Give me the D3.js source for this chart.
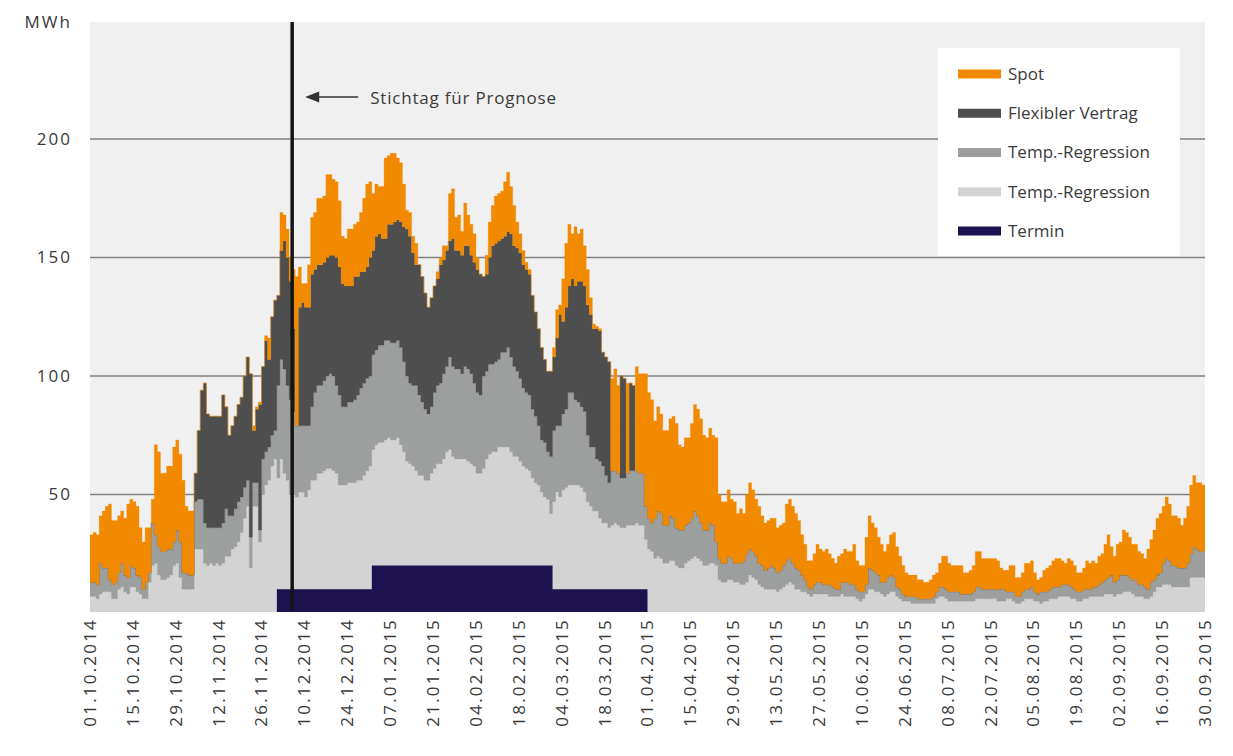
<!DOCTYPE html>
<html>
<head>
<meta charset="utf-8">
<script src="https://cdn.jsdelivr.net/npm/d3@7"></script>
<style>
body { margin: 0; background: #fff; }
svg text { font-family: "Open Sans", "Noto Sans", sans-serif; fill: #3a3a3a; }
</style>
</head>
<body>
<svg id="chart" width="1233" height="756"></svg>
<script>
// daily values 01.10.2014 - 30.09.2015 (MWh)
var lightTop = [
  7,7,6,8,9,9,9,6,6,10, 11,9,8,11,11,9,8,6,6,13, 20,21,16,14,14,15,16,20,21,15,
  10,10,10,10,27,27,27,21,20,21, 20,21,20,21,24,24,27,28,30,34, 40,45,19,45,45,30,50,54,56,62,
  65,57,65,59,56,50,50,49,51,51, 49,52,56,56,59,59,60,61,61,60, 59,54,54,54,55,55,55,56,56,58,
  60,62,69,71,72,72,73,74,73,73, 74,71,68,64,63,62,60,58,58,56, 56,59,61,63,63,65,68,69,66,65,
  65,65,65,64,63,62,59,59,61,65, 67,68,68,70,70,70,70,68,66,66, 64,62,61,60,57,55,54,51,49,48,
  42,47,51,49,52,53,54,54,54,54, 53,51,47,45,43,43,40,38,38,36, 37,38,37,36,36,37,37,37,38,37,
  37,31,27,26,23,24,23,21,21,22, 22,20,19,19,21,22,23,24,23,22, 20,20,21,21,20,14,13,13,14,14,
  13,13,12,12,13,16,15,14,12,11, 10,10,10,10,9,10,11,12,13,12, 10,10,9,9,8,7,8,8,8,8,
  8,7,7,7,7,8,7,7,7,7, 6,5,6,8,10,10,9,9,8,7, 8,9,9,7,6,5,5,5,4,4,
  4,4,4,4,4,4,6,7,7,6, 5,5,5,5,5,5,5,5,5,6, 6,6,6,6,6,6,5,5,5,6,
  6,5,4,4,5,6,6,6,5,5, 4,5,5,6,6,6,7,7,7,7, 6,6,5,5,6,6,7,7,7,7,
  7,8,8,8,7,8,8,9,9,9, 8,7,7,7,6,6,7,9,11,11, 12,12,12,11,11,11,11,11,11,15,
  15,15,15,15,15
];
var midTop = [
  13,13,12,21,19,19,14,12,13,17, 21,16,15,20,19,16,15,10,13,17, 38,33,28,26,26,27,27,30,35,30,
  17,17,16,16,47,48,48,38,36,36, 36,36,36,38,44,41,41,44,47,49, 53,56,32,55,55,35,65,68,70,75,
  77,96,107,103,96,90,85,79,79,79, 79,79,87,93,96,96,98,100,101,100, 96,92,87,87,89,89,90,92,95,97,
  99,100,109,111,113,113,115,115,114,114, 115,112,106,100,97,96,96,92,89,86, 84,87,93,96,97,101,104,108,104,103,
  103,101,104,103,101,97,93,92,100,102, 105,105,106,107,110,110,112,108,104,102, 99,95,93,92,86,83,79,73,72,68,
  66,77,79,79,84,86,93,93,90,89, 87,85,75,70,70,65,64,62,58,55, 60,60,59,57,57,59,60,60,60,59,
  59,45,40,38,40,43,42,37,37,41, 40,36,35,35,37,38,40,43,41,38, 35,35,38,37,30,23,21,21,24,23,
  21,21,21,22,25,27,26,24,21,20, 18,19,20,19,17,18,20,22,23,21, 19,18,16,14,11,10,12,13,13,12,
  12,12,11,10,10,13,13,13,12,12, 10,9,9,12,19,18,17,16,13,13, 15,16,15,11,10,8,7,7,7,7,
  6,6,6,6,6,7,9,11,11,10, 9,9,9,9,8,8,8,8,9,11, 11,10,10,10,10,10,10,10,10,9,
  9,9,7,7,9,10,10,11,9,8, 9,9,9,10,11,11,11,12,12,12, 11,10,9,9,10,10,10,11,11,12,
  13,14,15,16,13,14,16,16,16,15, 14,14,12,12,11,10,13,14,16,17, 21,23,22,20,20,19,19,19,21,25,
  28,27,26,26,26
];
// flexible contract only runs in winter: days 34 .. 183
var flexStart = 34;
var flexTop = [
  59,77,94,97,84,83,
  83,83,83,92,87,75,79,83,88,91, 100,108,101,77,86,88,104,115,107,125,
  132,134,153,157,150,140,120,79,129,131, 129,129,143,145,147,147,148,150,151,151,
  150,146,139,138,138,138,142,142,144,144, 146,150,153,159,160,158,158,164,164,165,
  166,165,163,162,159,152,147,147,142,135, 129,133,138,141,147,149,153,157,158,153,
  153,151,155,155,151,148,145,143,142,143, 150,155,156,157,158,159,161,160,155,154,
  152,147,145,143,134,127,120,112,107,102, 102,108,116,126,123,129,138,141,138,140,
  140,138,130,126,120,120,119,110,108,106, 60,60,59,100,99,59,97,96,60,59,
  59,45,40,38
];
var spotTop = [
  33,34,33,41,43,45,46,39,39,41, 43,40,46,48,47,45,36,30,36,36, 48,71,68,59,59,62,62,70,73,67,
  56,45,43,43,59,77,94,97,84,83, 83,83,83,92,87,75,79,83,88,91, 100,108,101,79,87,89,104,117,116,125,
  132,134,169,168,162,150,145,142,146,139, 139,147,167,169,175,175,176,185,185,183, 182,174,159,158,162,162,164,165,169,175,
  181,182,177,181,180,180,192,193,194,194, 192,190,181,170,169,159,156,147,142,135, 129,133,138,144,150,155,155,177,179,167,
  168,161,173,168,164,160,150,143,142,151, 165,172,176,177,178,182,186,180,172,165, 160,153,148,145,134,127,120,112,107,102,
  102,112,128,130,141,156,164,160,163,160, 162,155,145,133,122,121,120,110,108,106, 99,103,96,100,99,97,97,96,104,101,
  101,101,93,90,81,87,84,77,77,82, 83,80,71,70,74,74,80,88,86,82, 75,74,78,75,74,50,47,47,52,48,
  47,42,44,42,50,55,52,48,45,41, 38,39,40,40,36,37,38,46,48,45, 42,39,33,29,22,22,25,29,27,26,
  27,25,23,21,24,25,27,26,26,29, 22,20,20,32,41,38,36,32,29,26, 29,33,34,28,24,20,17,16,16,16,
  14,14,13,13,14,16,17,21,24,24, 21,20,20,20,20,17,17,18,20,26, 26,23,23,23,23,23,22,19,18,18,
  20,20,15,15,17,21,21,22,17,14, 15,18,19,20,22,23,23,22,21,23, 22,20,17,17,19,22,21,22,21,24,
  25,29,33,28,24,29,30,35,34,32, 29,29,26,25,23,27,31,35,40,42, 45,49,46,41,41,40,37,40,45,54,
  58,55,55,54,54
];
// forward contract (Termin), monthly blocks
var terminFrom = ["2014-12-01", "2015-01-01", "2015-02-01", "2015-03-01", "2015-04-01"];
var terminValues = [10, 20, 20, 10, 0];

var stichtag = "2014-12-06";
var yTicks = [50, 100, 150, 200];
var legendNames = ["Spot", "Flexibler Vertrag", "Temp.-Regression", "Temp.-Regression", "Termin"];

var colors = {
  spot: "#f18a00", flex: "#4e4e4e", mid: "#9d9f9f", light: "#d3d3d3", termin: "#1e1150"
};
var legendColors = [colors.spot, colors.flex, colors.mid, colors.light, colors.termin];

var parse = d3.utcParse("%Y-%m-%d");
var fmt = d3.utcFormat("%d.%m.%Y");
var start = parse("2014-10-01");
var n = spotTop.length;
var days = d3.range(n).map(function (i) { return d3.utcDay.offset(start, i); });

var flexAll = midTop.map(function (m, i) {
  var j = i - flexStart;
  return (j >= 0 && j < flexTop.length) ? flexTop[j] : m;
});
var zeros = days.map(function () { return 0; });

var pLeft = 90, pRight = 1205, pTop = 22, pBottom = 613;
var x = d3.scaleUtc().domain([start, d3.utcDay.offset(start, 364)]).range([pLeft, pRight]);
var y = d3.scaleLinear().domain([0, 249.4]).range([pBottom, pTop]);

var svg = d3.select("#chart");

svg.append("defs").append("clipPath").attr("id", "plot")
  .append("rect").attr("x", pLeft).attr("y", pTop)
  .attr("width", pRight - pLeft).attr("height", pBottom - pTop - 1);

svg.append("rect")
  .attr("x", pLeft).attr("y", pTop)
  .attr("width", pRight - pLeft).attr("height", pBottom - pTop - 1)
  .attr("fill", "#f0f0f0");

svg.selectAll(".grid").data(yTicks).enter().append("line")
  .attr("class", "grid")
  .attr("x1", pLeft).attr("x2", pRight)
  .attr("y1", function (d) { return y(d); })
  .attr("y2", function (d) { return y(d); })
  .attr("stroke", "#808080").attr("stroke-width", 1.5);

var plot = svg.append("g").attr("clip-path", "url(#plot)");

var bands = [
  { lo: zeros, hi: lightTop, color: colors.light },
  { lo: lightTop, hi: midTop, color: colors.mid },
  { lo: midTop, hi: flexAll, color: colors.flex },
  { lo: flexAll, hi: spotTop, color: colors.spot }
];

bands.forEach(function (b) {
  var area = d3.area()
    .curve(d3.curveStepAfter)
    .x(function (i) { return x(days[i]); })
    .y0(function (i) { return y(b.lo[i]); })
    .y1(function (i) { return y(b.hi[i]); });
  plot.append("path")
    .datum(d3.range(n))
    .attr("d", area)
    .attr("fill", b.color)
    .attr("stroke", b.color)
    .attr("stroke-width", 0.3);
});

var terminArea = d3.area()
  .curve(d3.curveStepAfter)
  .x(function (d, i) { return x(parse(terminFrom[i])); })
  .y0(y(0))
  .y1(function (d) { return y(d); });
plot.append("path")
  .datum(terminValues)
  .attr("d", terminArea)
  .attr("fill", colors.termin);

// Stichtag line + annotation
var sx = x(parse(stichtag));
svg.append("line")
  .attr("x1", sx).attr("x2", sx)
  .attr("y1", pTop).attr("y2", pBottom - 3)
  .attr("stroke", "#141414").attr("stroke-width", 3.5);

svg.append("line")
  .attr("x1", sx + 24).attr("x2", sx + 66)
  .attr("y1", 97).attr("y2", 97)
  .attr("stroke", "#333").attr("stroke-width", 1.6);
svg.append("path")
  .attr("d", "M" + (sx + 13) + ",97 L" + (sx + 27) + ",91.5 L" + (sx + 27) + ",102.5 Z")
  .attr("fill", "#333");
svg.append("text")
  .attr("x", sx + 78).attr("y", 104)
  .style("font-size", "17px")
  .style("letter-spacing", "0.8px")
  .text("Stichtag für Prognose");

// y axis labels
svg.selectAll(".ylab").data(yTicks).enter().append("text")
  .attr("class", "ylab")
  .attr("x", 72)
  .attr("y", function (d) { return y(d); })
  .attr("dy", "0.35em")
  .attr("text-anchor", "end")
  .style("font-size", "17px")
  .style("letter-spacing", "2px")
  .text(function (d) { return d; });

svg.append("text")
  .attr("x", 72).attr("y", 28)
  .attr("text-anchor", "end")
  .style("font-size", "17px")
  .style("letter-spacing", "2px")
  .text("MWh");

// x axis labels, every 14 days
var xTicks = d3.range(0, 365, 14).map(function (i) { return d3.utcDay.offset(start, i); });
svg.selectAll(".xlab").data(xTicks).enter().append("text")
  .attr("class", "xlab")
  .attr("transform", function (d) { return "translate(" + x(d) + ",618) rotate(-90)"; })
  .attr("dy", "0.35em")
  .attr("text-anchor", "end")
  .style("font-size", "17px")
  .style("letter-spacing", "2.2px")
  .text(function (d) { return fmt(d); });

// legend
var legend = svg.append("g");
legend.append("rect")
  .attr("x", 938).attr("y", 48)
  .attr("width", 242).attr("height", 208)
  .attr("fill", "#fff");

var item = legend.selectAll(".item").data(legendNames).enter().append("g")
  .attr("class", "item")
  .attr("transform", function (d, i) { return "translate(958," + (74 + i * 39.25) + ")"; });
item.append("rect")
  .attr("x", 0).attr("y", -4.5)
  .attr("width", 43).attr("height", 9)
  .attr("fill", function (d, i) { return legendColors[i]; });
item.append("text")
  .attr("x", 50).attr("dy", "0.35em")
  .style("font-size", "17px")
  .text(function (d) { return d; });
</script>
</body>
</html>
